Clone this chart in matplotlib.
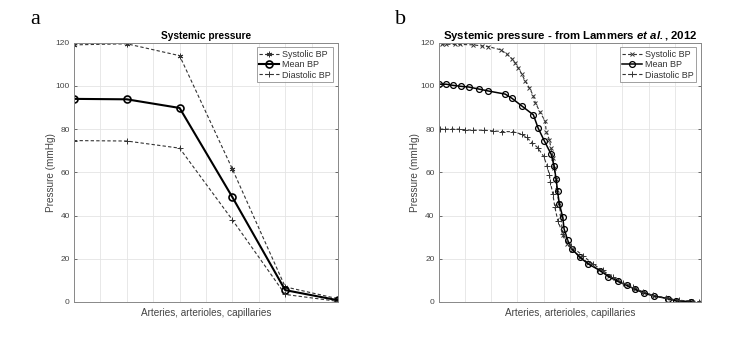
import matplotlib
matplotlib.use("Agg")
import matplotlib.pyplot as plt
import numpy as np

plt.rcParams['font.family'] = ['Liberation Sans', 'DejaVu Sans']
plt.rcParams['mathtext.fontset'] = 'custom'
plt.rcParams['mathtext.rm'] = 'Liberation Sans'
plt.rcParams['mathtext.bf'] = 'Liberation Sans:bold'
plt.rcParams['mathtext.it'] = 'Liberation Sans:italic'
plt.rcParams['mathtext.bfit'] = 'Liberation Sans:italic:bold'

# ---- Panel a data ----
a_x = [0, 2, 4, 6, 8, 10]
a_sys = [119.0, 119.5, 114.0, 61.5, 7.0, 1.5]
a_mean = [94.0, 93.8, 89.8, 48.5, 5.5, 0.8]
a_dia = [74.7, 74.5, 71.2, 38.0, 3.5, 0.3]

# ---- Panel b data ----
b_mean_x = [0, 0.28, 0.53, 0.85, 1.14, 1.55, 1.87, 2.54, 2.80, 3.16, 3.61, 3.79,
            4.03, 4.29, 4.40, 4.48, 4.53, 4.60, 4.73, 4.78, 4.92, 5.08, 5.37, 5.69,
            6.16, 6.47, 6.82, 7.17, 7.49, 7.81, 8.19, 8.73, 9.06, 9.62]
b_mean_y = [100.8, 100.8, 100.3, 99.8, 99.5, 98.5, 97.7, 96.2, 94.2, 90.8, 86.6, 80.5,
            74.5, 68.3, 62.8, 56.7, 51.3, 45.4, 39.2, 33.8, 28.5, 24.6, 20.8, 17.7,
            14.5, 11.8, 9.6, 7.7, 5.9, 4.2, 2.8, 1.6, 0.5, 0.2]

b_sys_x = [0.11, 0.28, 0.62, 0.81, 1.32, 1.64, 1.89, 2.37, 2.60, 2.79, 2.91, 3.04,
           3.17, 3.29, 3.46, 3.61, 3.68, 3.86, 4.06, 4.10, 4.22, 4.28, 4.37, 4.41,
           4.46, 4.51, 4.58, 4.66, 4.72, 4.90, 5.10, 5.40, 5.70, 6.10, 6.50, 6.80,
           7.20, 7.50, 7.80, 8.20, 8.70, 9.10, 9.60, 10.0]
b_sys_y = [119.3, 119.3, 119.2, 119.2, 119.0, 118.5, 118.2, 116.7, 114.7, 112.6, 110.8, 108.2,
           105.4, 102.4, 99.0, 95.4, 92.3, 88.0, 83.6, 78.8, 75.1, 71.1, 66.5, 61.9,
           57.0, 52.0, 46.0, 40.0, 31.0, 27.0, 24.0, 21.0, 18.0, 15.0, 12.0, 10.0,
           8.0, 6.2, 4.5, 3.0, 1.7, 0.8, 0.3, 0.1]

b_dia_x = [0.05, 0.25, 0.51, 0.76, 1.02, 1.30, 1.74, 2.06, 2.41, 2.82, 3.16, 3.35,
           3.55, 3.77, 4.00, 4.13, 4.22, 4.26, 4.35, 4.43, 4.54, 4.73, 5.04, 5.49,
           5.87, 6.25, 6.63, 7.01, 7.40, 7.78, 8.16, 8.67, 9.17, 9.94]
b_dia_y = [80.0, 80.0, 80.0, 80.0, 79.7, 79.5, 79.5, 79.2, 78.9, 78.8, 77.7, 76.2,
           73.8, 71.5, 67.4, 63.1, 58.8, 55.4, 50.0, 43.8, 37.7, 31.5, 26.0, 21.5,
           17.7, 14.6, 11.5, 8.9, 6.9, 4.6, 3.1, 1.8, 0.8, 0.15]

y_ticks = [0, 20, 40, 60, 80, 100, 120]
labels = ['Systolic BP', 'Mean BP', 'Diastolic BP']
xlabel = 'Arteries, arterioles, capillaries'
ylabel = 'Pressure (mmHg)'

fig = plt.figure(figsize=(7.32, 3.42), dpi=100)
ax_a = fig.add_axes([74/732, 1-302/342, 264/732, 259.3/342])
ax_b = fig.add_axes([438.7/732, 1-302/342, 262.3/732, 259.3/342])

dash_col = '#333333'

def style(ax):
    ax.set_xlim(0, 10)
    ax.set_ylim(0, 120)
    ax.set_xticks(np.arange(0, 11, 1))
    ax.set_xticklabels([])
    ax.set_yticks(y_ticks)
    ax.tick_params(axis='both', direction='in', length=2.5, width=0.6,
                   colors='#555555', labelsize=6, top=True, right=True,
                   labelcolor='#444444', pad=3)
    ax.tick_params(axis='x', length=0)
    ax.grid(True, color='#e4e4e4', linewidth=0.6)
    ax.set_axisbelow(True)
    for s in ax.spines.values():
        s.set_color('#888888')
        s.set_linewidth(0.7)
    ax.set_xlabel(xlabel, fontsize=7.2, color='#444444', labelpad=1)
    ax.set_ylabel(ylabel, fontsize=7.2, color='#444444', labelpad=0)

# Panel a
ax_a.plot(a_x, a_sys, linestyle=(0, (3, 2)), color=dash_col, linewidth=0.8,
          marker=(6, 2, 0), markersize=4, markeredgewidth=0.7, label=labels[0])
ax_a.plot(a_x, a_mean, linestyle='-', color='black', linewidth=1.5,
          marker='o', markersize=5, markerfacecolor='none', markeredgewidth=1.2,
          label=labels[1])
ax_a.plot(a_x, a_dia, linestyle=(0, (3, 2)), color=dash_col, linewidth=0.8,
          marker='+', markersize=5, markeredgewidth=0.7, label=labels[2])
style(ax_a)
ax_a.set_title('Systemic pressure', fontsize=7.3, fontweight='bold', pad=3)

# Panel b
ax_b.plot(b_sys_x, b_sys_y, linestyle=(0, (3, 2)), color=dash_col, linewidth=0.8,
          marker='x', markersize=3, markeredgewidth=0.7, label=labels[0])
ax_b.plot(b_mean_x, b_mean_y, linestyle='-', color='black', linewidth=1.1,
          marker='o', markersize=4.2, markerfacecolor='none', markeredgewidth=0.9,
          label=labels[1])
ax_b.plot(b_dia_x, b_dia_y, linestyle=(0, (3, 2)), color=dash_col, linewidth=0.8,
          marker='+', markersize=4.5, markeredgewidth=0.7, label=labels[2])
style(ax_b)
ax_b.set_title(r'Systemic pressure - from Lammers $\mathbfit{et\ al.}\mathbf{,}$ 2012',
               fontsize=8.2, fontweight='bold', pad=3)

for ax in (ax_a, ax_b):
    leg = ax.legend(loc='upper right', fontsize=6.5, frameon=True, fancybox=False,
                    borderpad=0.3, labelspacing=0.15, handlelength=2.2,
                    handletextpad=0.3, borderaxespad=0.5)
    leg.get_frame().set_edgecolor('#888888')
    leg.get_frame().set_linewidth(0.7)
    for t in leg.get_texts():
        t.set_color('#333333')

fig.text(35/732, 1-20/342, 'a', fontsize=16, family='Liberation Serif',
         ha='center', va='center')
fig.text(401/732, 1-20/342, 'b', fontsize=16, family='Liberation Serif',
         ha='center', va='center')

fig.savefig('out.png', dpi=100)
